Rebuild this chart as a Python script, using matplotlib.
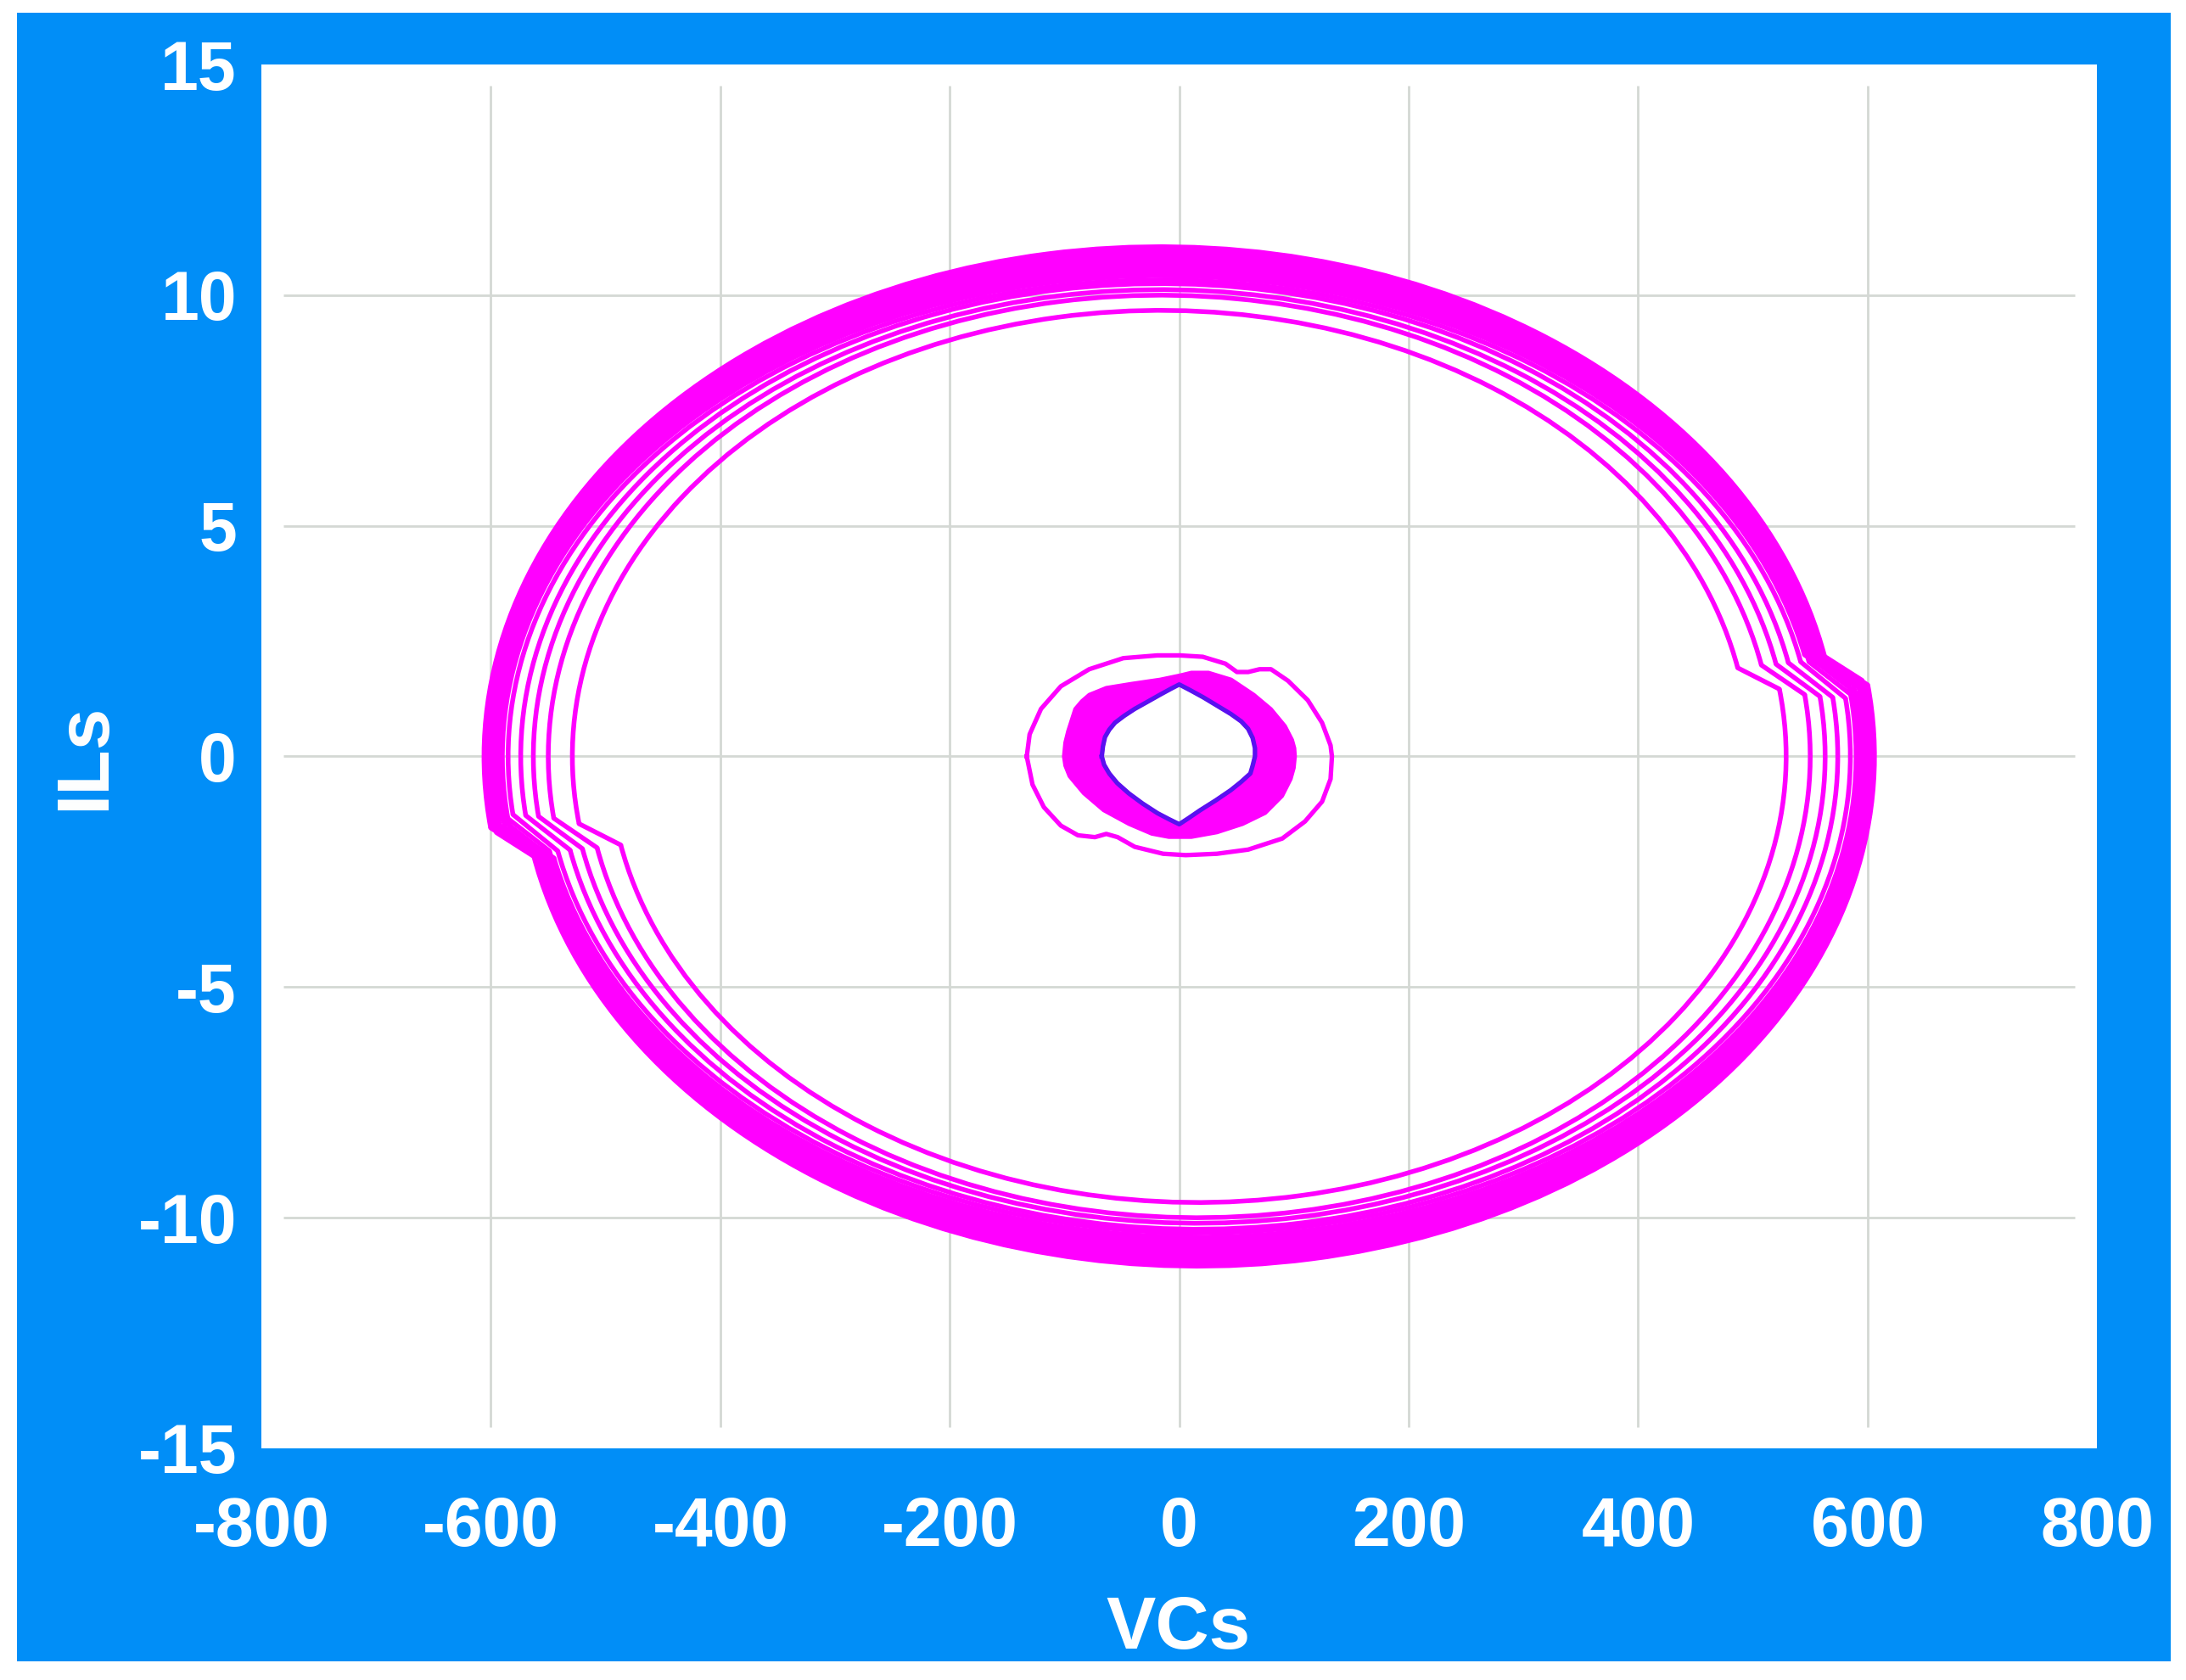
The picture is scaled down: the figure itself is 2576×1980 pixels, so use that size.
import numpy as np
import matplotlib.pyplot as plt
from matplotlib.patches import Arc, Rectangle, PathPatch
from matplotlib.path import Path

plt.rcParams['font.family'] = ['Liberation Sans', 'DejaVu Sans']
plt.rcParams['axes.unicode_minus'] = False

x_ticks = [-800, -600, -400, -200, 0, 200, 400, 600, 800]
y_ticks = [-15, -10, -5, 0, 5, 10, 15]
grid_x = [-600, -400, -200, 0, 200, 400, 600]
grid_y = [-10, -5, 0, 5, 10]

# large loops: half width in VCs, peak ILs,
# ILs where the switching kink starts and where it lands
big_half_vcs = [513, 534, 547, 558, 569, 574, 576, 578, 580, 582, 584, 586, 588, 590]
big_peak_ils = [9.67, 10.0, 10.12, 10.25, 10.33, 10.42, 10.5, 10.58, 10.66, 10.74, 10.82, 10.9, 10.98, 11.05]
big_kink_from = [1.92, 1.98, 2.0, 2.03, 2.05, 2.2, 2.05, 2.25, 2.1, 2.2, 2.15, 2.25, 2.1, 2.15]
big_kink_to = [1.46, 1.34, 1.3, 1.28, 1.26, 1.6, 1.3, 1.55, 1.35, 1.6, 1.45, 1.65, 1.5, 1.55]
arc_shift = 16  # arcs are centred at -16 (upper) and +16 (lower)

# steady small loop (blue)
blue_vcs = [-67.5, -66.5, -64.7, -61, -56, -48, -38.8, -28, -16.6, -7, 0,
            10, 21, 33, 45, 54, 60, 64, 66, 66, 64, 62, 54, 45, 32, 18, 8, 0,
            -9, -19, -32, -44, -54, -61, -65.5, -67.5]
blue_ils = [0, 0.22, 0.42, 0.58, 0.73, 0.88, 1.03, 1.18, 1.34, 1.47, 1.56,
            1.43, 1.28, 1.1, 0.92, 0.76, 0.6, 0.4, 0.18, 0, -0.2, -0.37, -0.55,
            -0.73, -0.95, -1.17, -1.34, -1.47, -1.36, -1.23, -1.02, -0.8, -0.58,
            -0.37, -0.18, 0]

# outer edge of the magenta band around the blue loop
band_vcs = [-100.7, -99.5, -97, -90.8, -85, -78.5, -63.6, -41.3, -16.6, 0.7, 10.6, 25.5,
            45.3, 65.1, 80, 92.3, 98.5, 100.5, 101, 100, 97.3, 89.8, 75, 55.2, 32.9, 10.6,
            -9.1, -24, -43.8, -66, -83.4, -95.8, -99.5]
band_ils = [0, 0.3, 0.55, 1.03, 1.2, 1.34, 1.49, 1.58, 1.67, 1.76, 1.82, 1.82, 1.67,
            1.34, 1.03, 0.66, 0.36, 0.18, 0, -0.25, -0.49, -0.86, -1.23, -1.47, -1.65, -1.75,
            -1.75, -1.68, -1.47, -1.17, -0.8, -0.43, -0.2]

# first small loop (thin magenta) with its kinks
small_vcs = [-132.9, -130.4, -120.5, -103.2, -78.5, -48.8, -19.1, 0.7, 20.5,
             40.3, 50.3, 60.1, 70, 80, 94.8, 112, 124.5, 131.9, 133.1, 131.9,
             124.5, 109.6, 89.8, 60.1, 32.9, 5.7, -14.1, -38.8, -53.7, -63.6,
             -73.5, -88.3, -103.2, -118, -127.9, -132.9]
small_ils = [0, 0.48, 1.03, 1.52, 1.89, 2.13, 2.19, 2.19, 2.16, 2.01, 1.83,
             1.83, 1.89, 1.89, 1.64, 1.22, 0.73, 0.24, 0, -0.49, -0.98, -1.41,
             -1.78, -2.02, -2.11, -2.14, -2.11, -1.96, -1.75, -1.68, -1.75,
             -1.71, -1.5, -1.1, -0.61, 0]

magenta = '#FF00FF'
fig = plt.figure(figsize=(25.76, 19.8), dpi=100, facecolor='white')
fig.patches.append(Rectangle((0.0078, 0.0111), 0.9852, 0.9813,
                             transform=fig.transFigure, facecolor='#018EF7',
                             edgecolor='none', zorder=-5))
ax = fig.add_axes([0.1196, 0.1379, 0.8397, 0.8237])
ax.set_zorder(2)
ax.set_facecolor('white')
ax.set_xlim(-800, 800)
ax.set_ylim(-15, 15)
for s in ax.spines.values():
    s.set_visible(False)

ax.vlines(grid_x, -14.54, 14.54, color='#D4D8D4', lw=2, zorder=0)
ax.hlines(grid_y, -781, 781, color='#D4D8D4', lw=2, zorder=0)

lw_big = 4
for R, b, ks, ke in zip(big_half_vcs, big_peak_ils, big_kink_from, big_kink_to):
    dx_s = R * np.sqrt(1 - (ks / b) ** 2)
    dx_e = R * np.sqrt(1 - (ke / b) ** 2)
    x_s = -arc_shift + dx_s
    x_e = arc_shift + dx_e
    t1 = np.degrees(np.arctan2(ks, dx_s))
    t2 = np.degrees(np.arctan2(-ke, -dx_e)) % 360
    ax.add_patch(Arc((-arc_shift, 0), 2 * R, 2 * b, theta1=t1, theta2=t2,
                     color=magenta, lw=lw_big, zorder=2))
    ax.add_patch(Arc((arc_shift, 0), 2 * R, 2 * b, theta1=t1 + 180, theta2=t2 + 180,
                     color=magenta, lw=lw_big, zorder=2))
    ax.plot([x_s, x_e], [ks, ke], color=magenta, lw=lw_big,
            solid_capstyle='round', zorder=2)
    ax.plot([-x_s, -x_e], [-ks, -ke], color=magenta, lw=lw_big,
            solid_capstyle='round', zorder=2)

# magenta band with the blue loop as a hole
outer = np.column_stack([band_vcs, band_ils])
inner = np.column_stack([blue_vcs, blue_ils])[::-1]
verts = np.vstack([outer, outer[:1], inner, inner[:1]])
codes = ([Path.MOVETO] + [Path.LINETO] * (len(outer) - 1) + [Path.CLOSEPOLY]
         + [Path.MOVETO] + [Path.LINETO] * (len(inner) - 1) + [Path.CLOSEPOLY])
ax.add_patch(PathPatch(Path(verts, codes), facecolor=magenta, edgecolor=magenta,
                       lw=3, joinstyle='round', zorder=3))
ax.plot(small_vcs, small_ils, color=magenta, lw=3.8, solid_joinstyle='round', zorder=3)
ax.plot(blue_vcs, blue_ils, color='#5A10F0', lw=3.8, solid_joinstyle='round', zorder=4)

ax.set_xticks(x_ticks)
ax.set_yticks(y_ticks)
ax.tick_params(length=0, labelcolor='white', labelsize=58)
ax.tick_params(axis='x', pad=40)
ax.tick_params(axis='y', pad=21)
for lab in ax.get_xticklabels() + ax.get_yticklabels():
    lab.set_fontweight('bold')

fig.text(1389 / 2576, 1 - 1943 / 1980, 'VCs', color='white', fontsize=63,
         fontweight='bold', ha='center', va='baseline')
fig.text(123 / 2576, 1 - 892 / 1980, 'ILs', color='white', fontsize=63,
         fontweight='bold', rotation=90, rotation_mode='anchor',
         ha='center', va='baseline')

fig.savefig('out.png', dpi=100, facecolor='white')
